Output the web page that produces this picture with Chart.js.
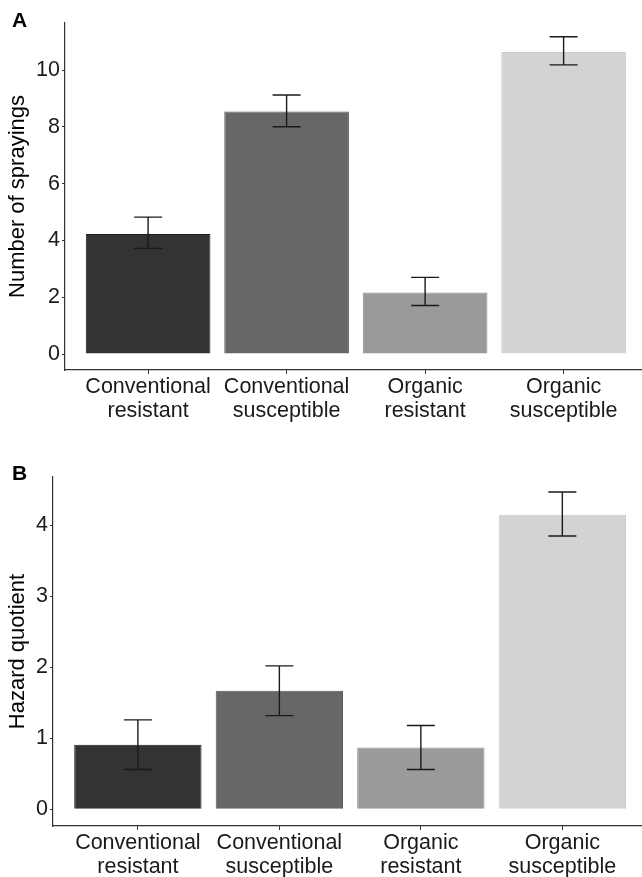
<!DOCTYPE html>
<html>
<head>
<meta charset="utf-8">
<script src="https://cdn.jsdelivr.net/npm/chart.js@4.4.1/dist/chart.umd.min.js"></script>
<style>
  body { margin: 0; background: #fff; }
  .panel { position: absolute; left: 0; width: 642px; }
  #panel-a { top: 0; height: 438px; }
  #panel-b { top: 438px; height: 439px; }
  .tag { position: absolute; left: 12px; font: bold 21px "Liberation Sans", Arial, sans-serif; line-height: 21px; color: #000; }
</style>
</head>
<body>
<div class="panel" id="panel-a"><canvas id="chart-a" width="642" height="438"></canvas></div>
<div class="panel" id="panel-b"><canvas id="chart-b" width="642" height="439"></canvas></div>
<div class="tag" style="top:9px">A</div>
<div class="tag" style="top:462px">B</div>

<script>
const categories = [
  ["Conventional", "resistant"],
  ["Conventional", "susceptible"],
  ["Organic", "resistant"],
  ["Organic", "susceptible"],
];
const barColors = ["#333333", "#676767", "#9a9a9a", "#d3d3d3"];
const barBorders = ["#1e1e1e", "#555555", "#8c8c8c", "#cacaca"];

// panel A: number of sprayings
const sprayMean = [4.23, 8.54, 2.17, 10.63];
const sprayLow = [3.72, 8.0, 1.71, 10.18];
const sprayHigh = [4.82, 9.12, 2.70, 11.17];
const sprayTicks = [0, 2, 4, 6, 8, 10];

// panel B: hazard quotient
const hazardMean = [0.91, 1.67, 0.87, 4.15];
const hazardLow = [0.56, 1.32, 0.56, 3.85];
const hazardHigh = [1.26, 2.02, 1.18, 4.47];
const hazardTicks = [0, 1, 2, 3, 4];

const FONT = "'Liberation Sans', Arial, sans-serif";
const INK = "#1a1a1a";

const errorBars = {
  id: "errorBars",
  afterDatasetsDraw(chart, args, opts) {
    const { ctx } = chart;
    const y = chart.scales.y;
    const meta = chart.getDatasetMeta(0);
    ctx.save();
    ctx.strokeStyle = INK;
    ctx.lineWidth = 1.4;
    meta.data.forEach((bar, i) => {
      const top = y.getPixelForValue(opts.high[i]);
      const bottom = y.getPixelForValue(opts.low[i]);
      const half = opts.capWidth / 2;
      ctx.beginPath();
      ctx.moveTo(bar.x, top);
      ctx.lineTo(bar.x, bottom);
      ctx.moveTo(bar.x - half, top);
      ctx.lineTo(bar.x + half, top);
      ctx.moveTo(bar.x - half, bottom);
      ctx.lineTo(bar.x + half, bottom);
      ctx.stroke();
    });
    ctx.restore();
  },
};

function makeChart(id, cfg) {
  return new Chart(document.getElementById(id), {
    type: "bar",
    data: {
      datasets: [{
        data: cfg.values.map((v, i) => ({ x: i, y: v })),
        backgroundColor: barColors,
        borderColor: barBorders,
        borderWidth: 1,
        barPercentage: 0.9,
        categoryPercentage: 1,
      }],
    },
    plugins: [errorBars],
    options: {
      responsive: false,
      animation: false,
      layout: { padding: { top: cfg.top, right: 0, left: 0, bottom: 0 } },
      plugins: {
        legend: { display: false },
        tooltip: { enabled: false },
        errorBars: { low: cfg.low, high: cfg.high, capWidth: 28 },
      },
      scales: {
        x: {
          type: "linear",
          offset: false,
          min: -0.6,
          max: cfg.xMax,
          afterBuildTicks: (s) => { s.ticks = categories.map((c, i) => ({ value: i })); },
          afterFit: (s) => { s.height = cfg.xHeight; },
          ticks: {
            callback: (v, i) => categories[i],
            color: INK,
            font: { family: FONT, size: 21.5, lineHeight: 1.12 },
            padding: 1,
            maxRotation: 0,
            autoSkip: false,
          },
          grid: { offset: false, drawOnChartArea: false, drawTicks: true, tickLength: 4, color: "#333", tickColor: "#333" },
          border: { display: true, color: "#333", width: 1.2 },
        },
        y: {
          min: cfg.yMin,
          max: cfg.yMax,
          afterBuildTicks: (s) => { s.ticks = cfg.ticks.map((v) => ({ value: v })); },
          afterFit: (s) => { s.width = cfg.yWidth; },
          ticks: {
            color: INK,
            font: { family: FONT, size: 21.5 },
            padding: 2,
          },
          title: {
            display: true,
            text: cfg.title,
            color: "#000",
            font: { family: FONT, size: 22 },
            padding: { top: 5, bottom: 0 },
          },
          grid: { drawOnChartArea: false, drawTicks: true, tickLength: 3, color: "#333", tickColor: "#333" },
          border: { display: true, color: "#333", width: 1.2 },
        },
      },
    },
  });
}

makeChart("chart-a", {
  values: sprayMean, low: sprayLow, high: sprayHigh, ticks: sprayTicks,
  title: "Number of sprayings",
  yMin: -0.563, yMax: 11.655, xMax: 3.566,
  top: 23, yWidth: 65, xHeight: 68,
});

makeChart("chart-b", {
  values: hazardMean, low: hazardLow, high: hazardHigh, ticks: hazardTicks,
  title: "Hazard quotient",
  yMin: -0.236, yMax: 4.682, xMax: 3.563,
  top: 39, yWidth: 53, xHeight: 51,
});
</script>
</body>
</html>
